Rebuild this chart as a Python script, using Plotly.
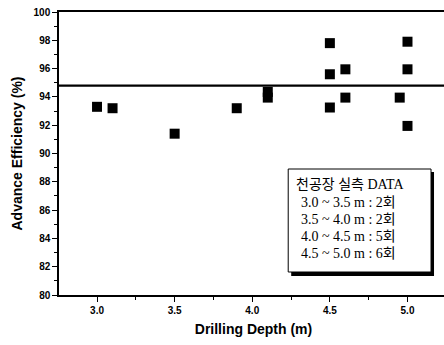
import plotly.graph_objects as go

depth = [3.0, 3.1, 3.5, 3.9, 4.1, 4.1, 4.5, 4.5, 4.5, 4.6, 4.6, 4.95, 5.0, 5.0, 5.0]
efficiency = [93.3, 93.2, 91.4, 93.2, 94.35, 93.95, 97.8, 95.6, 93.25, 95.95, 93.95, 93.95, 97.9, 95.95, 91.95]
mean_line = 94.8
x_ticks = [3.0, 3.5, 4.0, 4.5, 5.0]
x_ticklabels = ["3.0", "3.5", "4.0", "4.5", "5.0"]
y_ticks = [80, 82, 84, 86, 88, 90, 92, 94, 96, 98, 100]
legend_title = "천공장 실측 DATA"
legend_lines = ["3.0 ~ 3.5 m : 2회", "3.5 ~ 4.0 m : 2회", "4.0 ~ 4.5 m : 5회", "4.5 ~ 5.0 m : 6회"]

W, H = 448, 345
L, R, T, B = 58.5, 448, 12, 295
xr = [2.755, 5.261]

def px(x):
    return (x - L) / (R - L)

def py(y):
    return (B - y) / (B - T)

fig = go.Figure()
fig.add_trace(go.Scatter(x=xr, y=[mean_line, mean_line], mode="lines",
                         line=dict(color="black", width=2.2), showlegend=False, hoverinfo="skip"))
fig.add_trace(go.Scatter(x=depth, y=efficiency, mode="markers",
                         marker=dict(symbol="square", size=10, color="black"), showlegend=False))

tickfont = dict(family="Liberation Sans", size=10, color="black", weight="bold")
fig.update_layout(
    width=W, height=H,
    margin=dict(l=L, r=W - R, t=T, b=H - B, autoexpand=False),
    paper_bgcolor="white", plot_bgcolor="white",
    xaxis=dict(range=xr, tickvals=x_ticks, ticktext=x_ticklabels, showgrid=False, zeroline=False,
               showline=True, linecolor="black", linewidth=1.5, mirror=True, automargin=False,
               ticks="outside", ticklen=5, tickcolor="black", tickfont=tickfont,
               minor=dict(dtick=0.25, tick0=3.0, ticks="outside", ticklen=3, tickcolor="black", showgrid=False),
               title=dict(text="Drilling Depth (m)", font=dict(family="Liberation Sans", size=14, color="black", weight="bold"), standoff=9)),
    yaxis=dict(range=[80, 100], tickvals=y_ticks, showgrid=False, zeroline=False,
               showline=True, linecolor="black", linewidth=1.5, automargin=False,
               ticks="outside", ticklen=5, tickcolor="black", tickfont=tickfont,
               minor=dict(dtick=1, ticks="outside", ticklen=3, tickcolor="black", showgrid=False),
               title=dict(text="Advance Efficiency (%)", font=dict(family="Liberation Sans", size=14, color="black", weight="bold"), standoff=8)),
)

# legend box with shadow
fig.add_shape(type="rect", xref="paper", yref="paper", x0=px(291), x1=px(434), y0=py(276), y1=py(172),
              fillcolor="black", line=dict(color="black", width=0), layer="above")
fig.add_shape(type="rect", xref="paper", yref="paper", x0=px(288), x1=px(431), y0=py(272), y1=py(169),
              fillcolor="white", line=dict(color="black", width=1), layer="above")

tfont = dict(family="Liberation Serif, Noto Sans CJK KR", size=14, color="black")
fig.add_annotation(x=px(294), y=py(184), xref="paper", yref="paper", text=legend_title, showarrow=False,
                   xanchor="left", yanchor="middle", font=tfont)
for i, s in enumerate(legend_lines):
    fig.add_annotation(x=px(299), y=py(202 + 17 * i), xref="paper", yref="paper", text=s, showarrow=False,
                       xanchor="left", yanchor="middle", font=tfont)

fig.write_html("out.html", config={"displayModeBar": False},
               post_script="document.body.style.margin='0';document.body.style.overflow='hidden';")
